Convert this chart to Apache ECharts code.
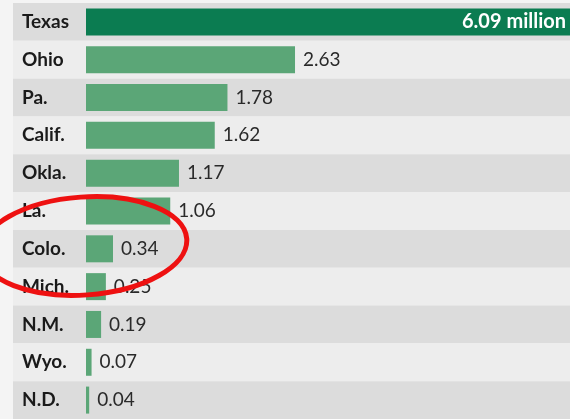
<!DOCTYPE html>
<html>
<head>
<meta charset="utf-8">
<script src="https://cdn.jsdelivr.net/npm/echarts@6/dist/echarts.min.js"></script>
<style>
  html, body { margin: 0; padding: 0; background: #f4f4f4; }
  #chart { width: 570px; height: 419px; }
</style>
</head>
<body>
<div id="chart"></div>
<script>
const states = ['Texas', 'Ohio', 'Pa.', 'Calif.', 'Okla.', 'La.', 'Colo.', 'Mich.', 'N.M.', 'Wyo.', 'N.D.']
const values = [6.09, 2.63, 1.78, 1.62, 1.17, 1.06, 0.34, 0.25, 0.19, 0.07, 0.04]

const myChart = echarts.init(document.getElementById('chart'))

let option = {
  backgroundColor: '#f4f4f4',
  animation: false,
  grid: [
    {left: 13, right: 0, top: 3, height: 424},
    {left: 86, right: 0, top: 3, height: 424}
  ],
  xAxis: [
    {gridIndex: 0, type: 'value', show: false},
    {gridIndex: 1, type: 'value', min: 0, max: 6.09, show: false}
  ],
  yAxis: [
    {
      gridIndex: 0,
      type: 'category',
      data: states,
      inverse: true,
      axisLine: {show: false},
      axisTick: {show: false},
      axisLabel: {show: false},
      splitArea: {show: true, areaStyle: {color: ['#dcdcdc', '#ededed']}}
    },
    {
      gridIndex: 1,
      type: 'category',
      data: states,
      inverse: true,
      axisLine: {show: false},
      axisTick: {show: false},
      axisLabel: {
        align: 'left',
        margin: 64,
        color: '#1a1a1a',
        fontFamily: 'Lato',
        fontWeight: 'bold',
        fontSize: 19
      }
    }
  ],
  series: [
    {
      type: 'bar',
      xAxisIndex: 1,
      yAxisIndex: 1,
      barWidth: 27,
      data: values.map((v, i) => ({
        value: v,
        itemStyle: {color: i === 0 ? '#0b7c51' : '#5ba677'},
        label: i === 0
          ? {position: 'insideRight', distance: 4, color: '#ffffff', fontFamily: 'Lato', fontWeight: 'bold', fontSize: 20,
             formatter: '{c} million'}
          : {position: 'right'}
      })),
      label: {
        show: true,
        position: 'right',
        distance: 8,
        color: '#2a2a2a',
        fontFamily: 'Lato',
        fontSize: 19,
        formatter: (p) => p.value.toFixed(2)
      }
    }
  ],
  graphic: [
    {
      type: 'ellipse',
      shape: {cx: 0, cy: 0, rx: 103, ry: 49},
      x: 84, y: 246,
      rotation: 0.07,
      style: {fill: 'none', stroke: '#ee1111', lineWidth: 5},
      z: 100
    }
  ]
}
myChart.setOption(option)
</script>
</body>
</html>
